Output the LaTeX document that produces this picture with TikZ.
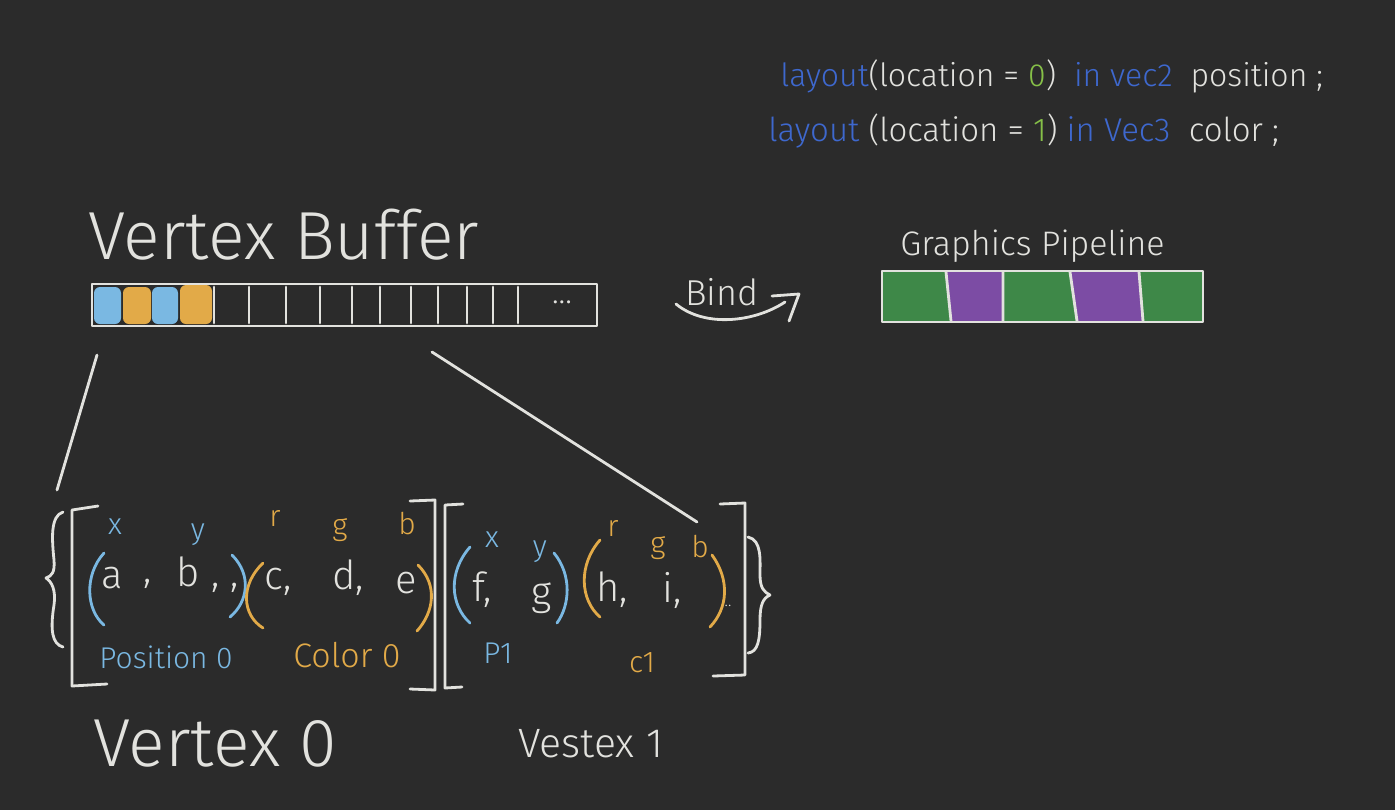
\documentclass[tikz,border=0pt]{standalone}
\usepackage{fontspec}
\setmainfont{Fira Sans Light}
\usepackage{xcolor}
\usepackage{tikz}
\definecolor{cBoard}{RGB}{43,43,43}
\definecolor{cChalk}{RGB}{226,226,222}
\definecolor{cCode}{RGB}{62,104,206}
\definecolor{cPos}{RGB}{122,184,226}
\definecolor{cCol}{RGB}{226,170,72}
\definecolor{cLoc}{RGB}{134,192,72}
\definecolor{cPipeG}{RGB}{62,136,72}
\definecolor{cPipeP}{RGB}{124,76,164}

\begin{document}
\begin{tikzpicture}[x=0.5pt,y=-0.5pt,
  chalk/.style={draw=cChalk,line width=1.4pt,line cap=round,line join=round},
  posline/.style={chalk,draw=cPos},
  colline/.style={chalk,draw=cCol},
  txt/.style={inner sep=0pt,text=cChalk},
  val/.style={txt,font=\fontsize{20}{22}\selectfont},
  tag/.style={inner sep=0pt,font=\fontsize{15}{17}\selectfont}]
\fill[cBoard] (0,0) rectangle (1395,810);
\useasboundingbox (0,0) rectangle (1395,810);
\node[txt,anchor=base west,font=\fontsize{16}{18}\selectfont] (code0) at (780,86) {\textcolor{cCode}{layout}(location = \textcolor{cLoc}{0}) \ \textcolor{cCode}{in vec2} \ position ;};
\node[txt,anchor=base west,font=\fontsize{16.5}{18}\selectfont] (code1) at (768,141) {\textcolor{cCode}{layout} (location = \textcolor{cLoc}{1}) \textcolor{cCode}{in Vec3} \ color ;};
\node[txt,anchor=base west,font=\fontsize{34}{38}\selectfont] (vbufTitle) at (88,259) {Vertex Buffer};
\node[txt,anchor=base west,font=\fontsize{17}{19}\selectfont] (pipeTitle) at (900,255) {Graphics Pipeline};
\node[txt,font=\fontsize{18}{20}\selectfont] (bindLbl) at (722,292) {Bind};
\draw[chalk] (676,304) .. controls (705,328) and (755,322) .. (785,302);
\draw[chalk] (772,296) -- (799,294) -- (789,321);
\fill[cPos,rounded corners=3] (94,287) rectangle (121,324);
\fill[cCol,rounded corners=3] (123,287) rectangle (151,324);
\fill[cPos,rounded corners=3] (152,287) rectangle (178,324);
\fill[cCol,rounded corners=3] (180,285) rectangle (212,324);
\draw[chalk] (92,284) rectangle (597,326);
\foreach \x in {214,249,286,320,352,380,411,438,467,493,518}
  \draw[chalk] (\x,287) -- (\x,323);
\node[txt,font=\fontsize{16}{18}\selectfont] (bufDots) at (562,302) {...};
\fill[cPipeG] (882,272) -- (946,272) -- (951,321) -- (882,321) -- cycle;
\fill[cPipeP] (946,272) -- (1003,272) -- (1003,321) -- (951,321) -- cycle;
\fill[cPipeG] (1003,272) -- (1070,272) -- (1077,321) -- (1003,321) -- cycle;
\fill[cPipeP] (1070,272) -- (1139,272) -- (1143,321) -- (1077,321) -- cycle;
\fill[cPipeG] (1139,272) -- (1203,272) -- (1203,321) -- (1143,321) -- cycle;
\draw[chalk] (882,271) rectangle (1203,322);
\draw[chalk] (946,272) -- (951,321) (1003,272) -- (1003,321) (1070,272) -- (1077,321) (1139,272) -- (1143,321);
\coordinate (bufA) at (97,355);
\coordinate (vtxA) at (57,490);
\coordinate (bufB) at (432,352);
\coordinate (vtxB) at (697,522);
\draw[chalk] (bufA) -- (vtxA);
\draw[chalk] (bufB) -- (vtxB);
\draw[chalk] (63,512) .. controls (50,516) and (52,540) .. (54,560) .. controls (55,572) and (52,576) .. (46,578) .. controls (52,582) and (56,590) .. (54,605) .. controls (50,630) and (52,644) .. (63,647);
\draw[chalk] (98,506) -- (72,510) -- (72,686) -- (107,684);
\draw[chalk] (410,501) -- (435,500) -- (435,690) -- (410,689);
\draw[chalk] (463,504) -- (445,505) -- (445,688) -- (462,687);
\draw[chalk] (720,504) -- (745,503) -- (745,675) -- (713,676);
\draw[chalk] (748,537) .. controls (762,540) and (760,560) .. (760,575) .. controls (760,588) and (764,592) .. (770,595) .. controls (763,598) and (760,605) .. (760,620) .. controls (760,640) and (758,652) .. (748,653);
\draw[posline] (104,553) .. controls (84,575) and (86,610) .. (104,625);
\draw[posline] (232,555) .. controls (252,575) and (248,602) .. (230,617);
\draw[colline] (263,563) .. controls (240,585) and (242,615) .. (263,628);
\draw[colline] (418,565) .. controls (438,585) and (434,612) .. (417,631);
\node[tag,text=cPos] (x0) at (115,527) {x};
\node[tag,text=cPos] (y0) at (198,535) {y};
\node[tag,text=cCol] (r0) at (275,518) {r};
\node[tag,text=cCol] (g0) at (340,530) {g};
\node[tag,text=cCol] (b0) at (407,524) {b};
\node[val] (a0) at (112,578) {a};
\node[val] (a0c) at (148,584) {,};
\node[val] (b0v) at (208,575) {b , ,};
\node[val] (c0) at (278,582) {c,};
\node[val] (d0) at (348,578) {d,};
\node[val] (e0) at (406,583) {e};
\node[tag,text=cPos] (pos0) at (166,657) {Position 0};
\node[tag,text=cCol,font=\fontsize{17}{19}\selectfont] (col0) at (347,655) {Color 0};
\draw[posline] (470,547) .. controls (448,572) and (450,605) .. (470,623);
\draw[posline] (554,553) .. controls (572,575) and (570,605) .. (557,623);
\draw[colline] (600,540) .. controls (578,565) and (580,600) .. (600,617);
\draw[colline] (712,555) .. controls (730,580) and (728,608) .. (710,627);
\node[tag,text=cPos] (x1) at (492,540) {x};
\node[tag,text=cPos] (y1) at (540,552) {y};
\node[tag,text=cCol] (r1) at (613,528) {r};
\node[tag,text=cCol] (g1) at (658,548) {g};
\node[tag,text=cCol] (b1) at (700,547) {b};
\node[val] (f1) at (482,590) {f,};
\node[val] (g1v) at (542,598) {g};
\node[val] (h1) at (612,590) {h,};
\node[val] (i1) at (672,590) {i,};
\node[txt,font=\fontsize{8}{9}\selectfont] (dots1) at (728,606) {..};
\node[tag,text=cPos] (pos1) at (498,653) {P1};
\node[tag,text=cCol] (col1) at (642,663) {c1};
\node[txt,anchor=base west,font=\fontsize{34}{38}\selectfont] (vtx0) at (93,766) {Vertex 0};
\node[txt,anchor=base west,font=\fontsize{20.5}{23}\selectfont] (vtx1) at (518,757) {Vestex 1};
\end{tikzpicture}
\end{document}
